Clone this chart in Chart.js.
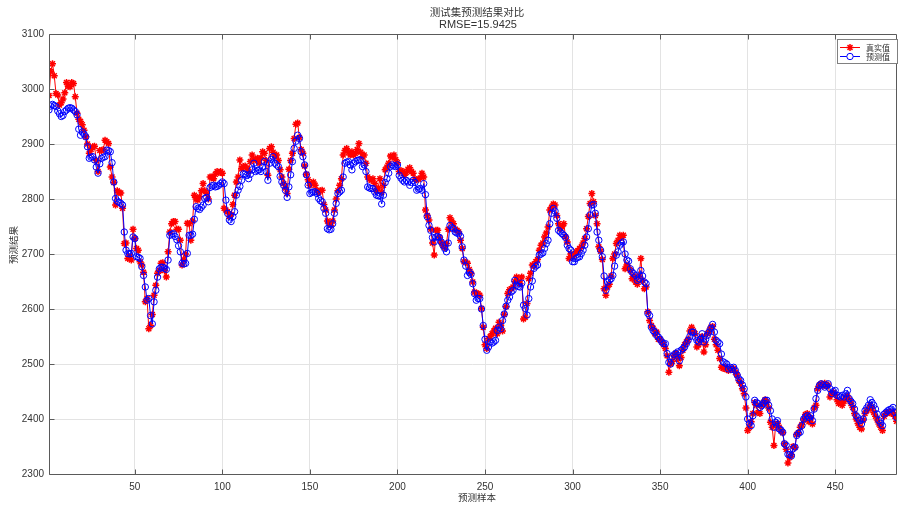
<!DOCTYPE html>
<html>
<head>
<meta charset="utf-8">
<script src="https://cdn.jsdelivr.net/npm/chart.js@4.4.1/dist/chart.umd.min.js"></script>
<style>
  html, body { margin: 0; padding: 0; background: #fff; overflow: hidden; }
  #chart { display: block; }
</style>
</head>
<body>
<canvas id="chart" width="902" height="506"></canvas>
<script>
// tick labels
const sampleTicks = [50, 100, 150, 200, 250, 300, 350, 400, 450];
const valueTicks = [2300, 2400, 2500, 2600, 2700, 2800, 2900, 3000, 3100];

// 真实值 (test set, sample 1..485)
const realValues = [
  2988,3032,3046,3024,2992,2989,2971,2975,2982,2993,
  3012,3005,3004,3012,3010,2986,2956,2945,2941,2935,
  2925,2913,2900,2883,2890,2895,2896,2870,2850,2888,
  2888,2890,2907,2904,2901,2858,2840,2830,2789,2815,
  2812,2811,2783,2719,2720,2692,2695,2689,2745,2728,
  2710,2707,2686,2680,2667,2613,2619,2564,2570,2590,
  2625,2643,2665,2670,2683,2684,2670,2658,2704,2740,
  2755,2759,2759,2745,2745,2725,2680,2690,2700,2756,
  2755,2725,2760,2807,2800,2798,2804,2815,2828,2815,
  2810,2800,2840,2840,2837,2845,2850,2848,2850,2847,
  2783,2780,2777,2768,2772,2790,2807,2831,2840,2871,
  2855,2859,2860,2856,2850,2868,2880,2871,2872,2874,
  2865,2875,2886,2883,2870,2843,2892,2895,2885,2878,
  2880,2870,2853,2840,2828,2820,2810,2854,2870,2883,
  2910,2936,2938,2912,2890,2883,2860,2845,2835,2825,
  2828,2831,2825,2816,2812,2815,2816,2790,2780,2760,
  2755,2752,2760,2780,2800,2815,2825,2837,2880,2888,
  2892,2885,2880,2886,2880,2883,2890,2901,2885,2877,
  2880,2865,2840,2836,2834,2837,2828,2815,2820,2837,
  2812,2825,2853,2858,2865,2878,2876,2880,2872,2866,
  2850,2852,2850,2843,2848,2854,2857,2850,2847,2836,
  2835,2836,2838,2847,2840,2780,2770,2762,2745,2720,
  2698,2743,2743,2730,2722,2715,2712,2719,2745,2766,
  2760,2755,2745,2743,2740,2725,2710,2686,2685,2683,
  2672,2665,2649,2631,2628,2628,2625,2601,2567,2535,
  2528,2546,2550,2555,2560,2565,2555,2576,2570,2560,
  2590,2604,2628,2635,2637,2640,2650,2658,2650,2646,
  2658,2582,2585,2610,2655,2665,2680,2678,2686,2690,
  2707,2716,2720,2731,2738,2749,2780,2785,2791,2789,
  2770,2755,2746,2750,2755,2731,2722,2692,2700,2695,
  2698,2704,2706,2710,2713,2720,2728,2746,2768,2792,
  2810,2795,2770,2755,2713,2705,2690,2637,2625,2640,
  2645,2660,2692,2700,2719,2725,2734,2730,2734,2673,
  2680,2675,2670,2655,2660,2649,2645,2660,2692,2652,
  2637,2640,2595,2579,2570,2565,2555,2558,2545,2545,
  2540,2535,2528,2515,2485,2500,2505,2515,2520,2510,
  2497,2512,2525,2535,2540,2545,2560,2567,2560,2555,
  2531,2535,2545,2550,2522,2535,2555,2560,2567,2568,
  2545,2535,2525,2510,2494,2492,2495,2490,2488,2492,
  2490,2492,2485,2480,2470,2465,2455,2446,2420,2379,
  2385,2395,2410,2430,2425,2412,2410,2425,2430,2435,
  2430,2420,2394,2385,2352,2390,2392,2385,2378,2375,
  2355,2345,2320,2330,2335,2350,2348,2372,2375,2385,
  2390,2398,2408,2410,2395,2402,2391,2420,2425,2455,
  2462,2464,2460,2465,2460,2462,2440,2447,2448,2445,
  2435,2428,2432,2425,2432,2440,2442,2435,2428,2421,
  2410,2400,2392,2385,2382,2398,2410,2415,2418,2425,
  2420,2412,2405,2398,2391,2385,2379,2405,2410,2412,
  2413,2410,2412,2405,2396
];

// 预测值
const predValues = [
  2962,2969,2972,2970,2968,2960,2955,2950,2952,2959,
  2962,2965,2966,2965,2962,2959,2953,2927,2916,2922,
  2918,2913,2895,2874,2876,2877,2871,2858,2847,2864,
  2874,2876,2877,2889,2888,2886,2866,2831,2801,2796,
  2794,2792,2789,2740,2707,2701,2700,2701,2731,2728,
  2695,2694,2692,2677,2661,2640,2616,2619,2588,2573,
  2613,2634,2658,2673,2676,2676,2674,2672,2689,2734,
  2736,2737,2732,2726,2715,2704,2683,2682,2683,2701,
  2734,2734,2736,2763,2786,2783,2781,2785,2789,2801,
  2803,2795,2821,2824,2825,2822,2823,2825,2828,2831,
  2828,2798,2774,2762,2759,2768,2777,2807,2816,2823,
  2834,2846,2845,2843,2837,2845,2853,2865,2850,2852,
  2853,2850,2858,2868,2850,2834,2865,2872,2877,2865,
  2862,2859,2841,2831,2825,2816,2803,2822,2844,2868,
  2892,2905,2916,2910,2886,2877,2862,2844,2825,2810,
  2812,2813,2813,2810,2801,2797,2795,2783,2774,2746,
  2744,2745,2755,2774,2792,2810,2813,2816,2840,2865,
  2867,2868,2862,2853,2865,2868,2870,2871,2871,2859,
  2862,2850,2822,2820,2819,2819,2813,2807,2806,2805,
  2791,2807,2830,2837,2847,2859,2862,2860,2859,2862,
  2843,2838,2834,2831,2834,2831,2825,2830,2834,2830,
  2816,2818,2819,2816,2828,2808,2768,2752,2743,2730,
  2722,2731,2732,2730,2722,2716,2710,2704,2720,2752,
  2748,2746,2740,2738,2737,2732,2713,2689,2678,2661,
  2667,2663,2646,2628,2616,2619,2619,2600,2570,2545,
  2525,2531,2540,2538,2540,2543,2561,2567,2564,2579,
  2591,2605,2616,2622,2631,2634,2652,2643,2641,2640,
  2647,2607,2601,2589,2619,2640,2651,2674,2678,2680,
  2698,2700,2702,2710,2719,2725,2755,2774,2783,2778,
  2765,2743,2740,2737,2734,2730,2716,2710,2707,2686,
  2686,2692,2694,2695,2701,2707,2716,2731,2746,2771,
  2789,2790,2774,2740,2725,2707,2695,2660,2634,2649,
  2652,2655,2661,2678,2698,2704,2716,2720,2722,2700,
  2689,2687,2673,2667,2664,2661,2652,2655,2670,2660,
  2649,2646,2592,2588,2567,2561,2558,2552,2549,2545,
  2540,2537,2537,2519,2503,2500,2513,2517,2519,2522,
  2506,2525,2528,2531,2537,2543,2550,2558,2558,2549,
  2543,2540,2545,2555,2540,2545,2552,2558,2565,2572,
  2558,2543,2540,2537,2518,2504,2502,2500,2491,2494,
  2490,2494,2488,2480,2473,2470,2462,2455,2440,2400,
  2392,2388,2406,2434,2430,2428,2421,2424,2428,2434,
  2434,2425,2415,2400,2385,2394,2397,2382,2380,2376,
  2355,2352,2336,2335,2333,2346,2349,2370,2374,2376,
  2388,2400,2404,2406,2403,2406,2397,2418,2437,2452,
  2461,2464,2462,2458,2461,2464,2455,2446,2450,2452,
  2443,2442,2440,2443,2440,2446,2452,2437,2432,2428,
  2418,2406,2402,2397,2391,2400,2415,2420,2425,2435,
  2430,2425,2418,2409,2397,2392,2388,2409,2412,2415,
  2417,2418,2421,2412,2403
];

const titleText = '测试集预测结果对比';
const subtitleText = 'RMSE=15.9425';
const xLabel = '预测样本';
const yLabel = '预测结果';
const seriesNames = ['真实值', '预测值'];

const toPoints = arr => arr.map((v, i) => ({ x: i + 1, y: v }));

const CJK = '"Noto Sans CJK SC", sans-serif';

function drawStar(ctx, x, y, r) {
  ctx.beginPath();
  ctx.moveTo(x - r, y); ctx.lineTo(x + r, y);
  ctx.moveTo(x, y - r); ctx.lineTo(x, y + r);
  const d = r * 0.707;
  ctx.moveTo(x - d, y - d); ctx.lineTo(x + d, y + d);
  ctx.moveTo(x - d, y + d); ctx.lineTo(x + d, y - d);
  ctx.stroke();
}

// matlab-like frame, inward ticks, titles and legend
const matlabAxes = {
  id: 'matlabAxes',
  afterDraw(chart) {
    const { ctx, chartArea: a, scales } = chart;
    ctx.save();
    ctx.strokeStyle = '#5a5a5a';
    ctx.lineWidth = 1;
    const L = Math.round(a.left) + 0.5, T = Math.round(a.top) + 0.5;
    const R = Math.round(a.right) - 0.5, B = Math.round(a.bottom) + 0.5;
    ctx.beginPath();
    ctx.moveTo(L, B); ctx.lineTo(L, T); ctx.lineTo(R, T); ctx.lineTo(R, B); ctx.lineTo(L, B);
    ctx.stroke();

    ctx.beginPath();
    sampleTicks.forEach(v => {
      const x = Math.round(scales.x.getPixelForValue(v)) + 0.5;
      ctx.moveTo(x, B); ctx.lineTo(x, B - 5);
      ctx.moveTo(x, T); ctx.lineTo(x, T + 5);
    });
    valueTicks.forEach(v => {
      const y = Math.round(scales.y.getPixelForValue(v)) + 0.5;
      ctx.moveTo(L, y); ctx.lineTo(L + 5, y);
    });
    ctx.stroke();

    // titles
    ctx.fillStyle = '#333';
    ctx.textAlign = 'center';
    ctx.textBaseline = 'middle';
    ctx.font = '10.5px ' + CJK;
    ctx.fillText(titleText, 477, 12);
    ctx.font = '11px "Liberation Sans", Arial, sans-serif';
    ctx.fillText(subtitleText, 478, 25);

    ctx.font = '9.5px ' + CJK;
    ctx.fillText(xLabel, 477, 497);
    ctx.save();
    ctx.translate(13, 245);
    ctx.rotate(-Math.PI / 2);
    ctx.fillText(yLabel, 0, 0);
    ctx.restore();

    // legend
    ctx.fillStyle = '#fff';
    ctx.strokeStyle = '#808080';
    ctx.fillRect(837.5, 39.5, 60, 24);
    ctx.strokeRect(837.5, 39.5, 60, 24);
    const rows = [47, 56];
    ctx.lineWidth = 1;
    ctx.strokeStyle = '#ff0000';
    ctx.beginPath(); ctx.moveTo(840, rows[0] + 0.5); ctx.lineTo(860, rows[0] + 0.5); ctx.stroke();
    ctx.lineWidth = 1.5;
    drawStar(ctx, 850, rows[0] + 0.5, 3.5);
    ctx.lineWidth = 1;
    ctx.strokeStyle = '#0000ff';
    ctx.beginPath(); ctx.moveTo(840, rows[1] + 0.5); ctx.lineTo(860, rows[1] + 0.5); ctx.stroke();
    ctx.fillStyle = '#fff';
    ctx.beginPath(); ctx.arc(850, rows[1] + 0.5, 3.2, 0, Math.PI * 2); ctx.fill(); ctx.stroke();
    ctx.fillStyle = '#333';
    ctx.textAlign = 'left';
    ctx.font = '8px ' + CJK;
    ctx.fillText(seriesNames[0], 866, rows[0] + 0.5);
    ctx.fillText(seriesNames[1], 866, rows[1] + 0.5);
    ctx.restore();
  }
};

Chart.defaults.font.family = '"Liberation Sans", Arial, sans-serif';
Chart.defaults.font.size = 10;
Chart.defaults.color = '#333';

new Chart(document.getElementById('chart'), {
  type: 'line',
  data: {
    datasets: [
      {
        label: seriesNames[0],
        data: toPoints(realValues),
        borderColor: '#ff0000',
        borderWidth: 1,
        pointStyle: 'star',
        pointRadius: 3.5,
        pointBorderWidth: 1.5,
        pointBorderColor: '#ff0000',
        pointBackgroundColor: '#ff0000',
        tension: 0,
        order: 1
      },
      {
        label: seriesNames[1],
        data: toPoints(predValues),
        borderColor: '#0000ff',
        borderWidth: 1,
        pointStyle: 'circle',
        pointRadius: 3.2,
        pointBorderWidth: 1,
        pointBorderColor: '#0000ff',
        pointBackgroundColor: 'rgba(0,0,0,0)',
        tension: 0,
        order: 0
      }
    ]
  },
  options: {
    responsive: false,
    animation: false,
    devicePixelRatio: 1,
    parsing: false,
    layout: { padding: { top: 34, right: 1, left: 0, bottom: 0 } },
    plugins: {
      legend: { display: false },
      tooltip: { enabled: false },
      title: { display: false }
    },
    scales: {
      x: {
        type: 'linear',
        min: 1,
        max: realValues.length,
        afterFit: s => { s.height = 32; },
        afterBuildTicks: s => { s.ticks = sampleTicks.map(v => ({ value: v })); },
        grid: { color: '#e3e3e3', drawTicks: false },
        border: { display: false },
        ticks: { padding: 7, maxRotation: 0, autoSkip: false, callback: v => String(v) }
      },
      y: {
        min: 2300,
        max: 3100,
        afterFit: s => { s.width = 49; },
        afterBuildTicks: s => { s.ticks = valueTicks.map(v => ({ value: v })); },
        grid: { color: '#e3e3e3', drawTicks: false },
        border: { display: false },
        ticks: { padding: 5, callback: v => String(v) }
      }
    }
  },
  plugins: [matlabAxes]
});
</script>
</body>
</html>
